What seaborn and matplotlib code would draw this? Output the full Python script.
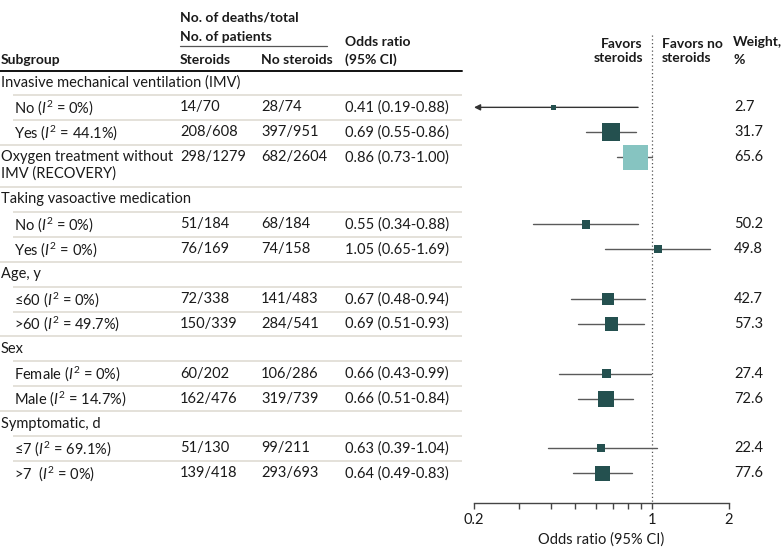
import numpy as np
import pandas as pd
import matplotlib
matplotlib.use("Agg")
import matplotlib.pyplot as plt
import seaborn as sns

# Subgroup rows (top to bottom)
groups = ["Invasive mechanical ventilation (IMV)", "Invasive mechanical ventilation (IMV)", "",
          "Taking vasoactive medication", "Taking vasoactive medication",
          "Age, y", "Age, y", "Sex", "Sex", "Symptomatic, d", "Symptomatic, d"]
subgroups = ["No", "Yes", "Oxygen treatment without\nIMV (RECOVERY)", "No", "Yes",
             "≤60", ">60", "Female", "Male", "≤7", ">7 "]
i_squared = ["0", "44.1", "", "0", "0", "0", "49.7", "0", "14.7", "69.1", "0"]
steroid_deaths = [14, 208, 298, 51, 76, 72, 150, 60, 162, 51, 139]
steroid_total = [70, 608, 1279, 184, 169, 338, 339, 202, 476, 130, 418]
control_deaths = [28, 397, 682, 68, 74, 141, 284, 106, 319, 99, 293]
control_total = [74, 951, 2604, 184, 158, 483, 541, 286, 739, 211, 693]
odds_ratio = [0.41, 0.69, 0.86, 0.55, 1.05, 0.67, 0.69, 0.66, 0.66, 0.63, 0.64]
ci_low = [0.19, 0.55, 0.73, 0.34, 0.65, 0.48, 0.51, 0.43, 0.51, 0.39, 0.49]
ci_high = [0.88, 0.86, 1.00, 0.88, 1.69, 0.94, 0.93, 0.99, 0.84, 1.04, 0.83]
weight = [2.7, 31.7, 65.6, 50.2, 49.8, 42.7, 57.3, 27.4, 72.6, 22.4, 77.6]
source = ["Pooled", "Pooled", "RECOVERY", "Pooled", "Pooled", "Pooled", "Pooled",
          "Pooled", "Pooled", "Pooled", "Pooled"]

x_ticks = [0.2, 1, 2]
x_ticklabels = ["0.2", "1", "2"]

sns.set_theme(style="white")
plt.rcParams["font.family"] = ["Lato", "DejaVu Sans"]
plt.rcParams["mathtext.fontset"] = "custom"
plt.rcParams["mathtext.rm"] = "Lato"
plt.rcParams["mathtext.it"] = "Lato:italic"

FS = 10.5
HFS = 10
TXT = "#1a1a1a"
DARK = "#24504f"
LIGHT = "#86c4c1"
SEP = "#dcd9cf"

W, H = 783, 559
fig = plt.figure(figsize=(W / 100, H / 100), dpi=100)
tab = fig.add_axes([0, 0, 1, 1])
tab.set_xlim(0, W)
tab.set_ylim(H, 0)
tab.axis("off")

# forest axes: 0.2 -> 474 px, 2 -> 729 px
x0, x1 = 474, 729
fax = fig.add_axes([x0 / W, 0, (x1 - x0) / W, 1])
fax.set_xscale("log")
fax.set_xlim(0.2, 2)
fax.set_ylim(H, 0)
fax.patch.set_alpha(0)

# build the row layout
top, unit = 70, 24.9
rows = []  # (kind, label, data index, y_center, y_top, height)
prev_group = None
for i, g in enumerate(groups):
    if g and g != prev_group:
        rows.append(("head", g, None, top + unit / 2, top, unit))
        top += unit
    prev_group = g
    h = unit * (1.7 if "\n" in subgroups[i] else 1)
    rows.append(("sub" if g else "solo", subgroups[i], i, top + unit / 2, top, h))
    top += h

df = pd.DataFrame({"or": odds_ratio, "lo": ci_low, "hi": ci_high, "source": source})
df["y"] = [r[3] for r in rows if r[2] is not None]
se = (np.log(df["hi"]) - np.log(df["lo"])) / (2 * 1.96)
df["s"] = (2.0 / se * 0.72) ** 2

WX = 734  # weight column
for k, (kind, label, idx, yc, yt, h) in enumerate(rows):
    if kind == "head":
        tab.text(1, yc, label, fontsize=FS, color=TXT, va="center")
    else:
        if kind == "sub":
            txt = f"{label} ($\\mathit{{I}}^{{2}}$ = {i_squared[idx]}%)"
            tab.text(14, yc, txt, fontsize=FS, color=TXT, va="center")
        else:
            tab.text(1, yc + 8, label, fontsize=FS, color=TXT, va="center", linespacing=1.25)
        tab.text(180, yc, f"{steroid_deaths[idx]}/{steroid_total[idx]}", fontsize=FS, color=TXT, va="center")
        tab.text(261, yc, f"{control_deaths[idx]}/{control_total[idx]}", fontsize=FS, color=TXT, va="center")
        tab.text(345, yc, f"{odds_ratio[idx]:.2f} ({ci_low[idx]:.2f}-{ci_high[idx]:.2f})",
                 fontsize=FS, color=TXT, va="center")
        tab.text(WX, yc, f"{weight[idx]:.1f}", fontsize=FS, color=TXT, va="center")
    if k < len(rows) - 1:
        nxt = rows[k + 1][0]
        xs = 13 if nxt == "sub" else 0
        tab.plot([xs, 462], [yt + h, yt + h], color=SEP, lw=1.1, solid_capstyle="butt")

# headers
hd = dict(fontsize=HFS, color=TXT, fontweight="bold", va="center")
tab.text(180, 18, "No. of deaths/total", **hd)
tab.text(180, 37, "No. of patients", **hd)
tab.plot([180, 327], [45.5, 45.5], color="#555555", lw=0.9)
tab.text(1, 60, "Subgroup", **hd)
tab.text(180, 60, "Steroids", **hd)
tab.text(261, 60, "No steroids", **hd)
tab.text(345, 42, "Odds ratio", **hd)
tab.text(345, 60, "(95% CI)", **hd)
tab.text(643, 51, "Favors\nsteroids", ha="right", linespacing=1.3, **hd)
tab.text(662, 51, "Favors no\nsteroids", ha="left", linespacing=1.3, **hd)
tab.text(WX - 1, 42, "Weight,", **hd)
tab.text(WX - 1, 60, "%", **hd)
tab.plot([0, 462], [70.5, 70.5], color="#111111", lw=1.4)

# confidence intervals
for _, r in df.iterrows():
    lo = max(r["lo"], 0.2)
    if r["lo"] < 0.2:
        fax.annotate("", xy=(0.2, r["y"]), xytext=(r["hi"], r["y"]),
                     arrowprops=dict(arrowstyle="-|>", color="#333333", lw=1, mutation_scale=9,
                                     shrinkA=0, shrinkB=0))
    else:
        fax.plot([lo, r["hi"]], [r["y"], r["y"]], color="#5a5a5a", lw=1, zorder=2)

sns.scatterplot(data=df, x="or", y="y", hue="source", palette={"Pooled": DARK, "RECOVERY": LIGHT},
                marker="s", s=df["s"].values, linewidth=0, legend=False, ax=fax, zorder=3)

fax.axvline(1, ymin=1 - 35 / H, ymax=1 - 503 / H, color="#555555", lw=0.9, ls=(0, (1, 2)), zorder=1)

for sp in ["top", "left", "right"]:
    fax.spines[sp].set_visible(False)
fax.spines["bottom"].set_position(("data", 503))
fax.spines["bottom"].set_color("#444444")
fax.spines["bottom"].set_linewidth(1)
fax.set_yticks([])
fax.set_xticks(x_ticks)
fax.set_xticklabels(x_ticklabels)
fax.set_xticks(np.arange(0.3, 1.0, 0.1), minor=True)
fax.xaxis.set_minor_formatter(matplotlib.ticker.NullFormatter())
fax.tick_params(axis="x", which="both", direction="out", length=4, width=1, color="#444444",
                labelsize=FS, labelcolor=TXT, pad=3, bottom=True)
fax.set_xlabel("Odds ratio (95% CI)", fontsize=FS, color=TXT, labelpad=4)
fax.set_ylabel("")

fig.savefig("out.png", dpi=100)
